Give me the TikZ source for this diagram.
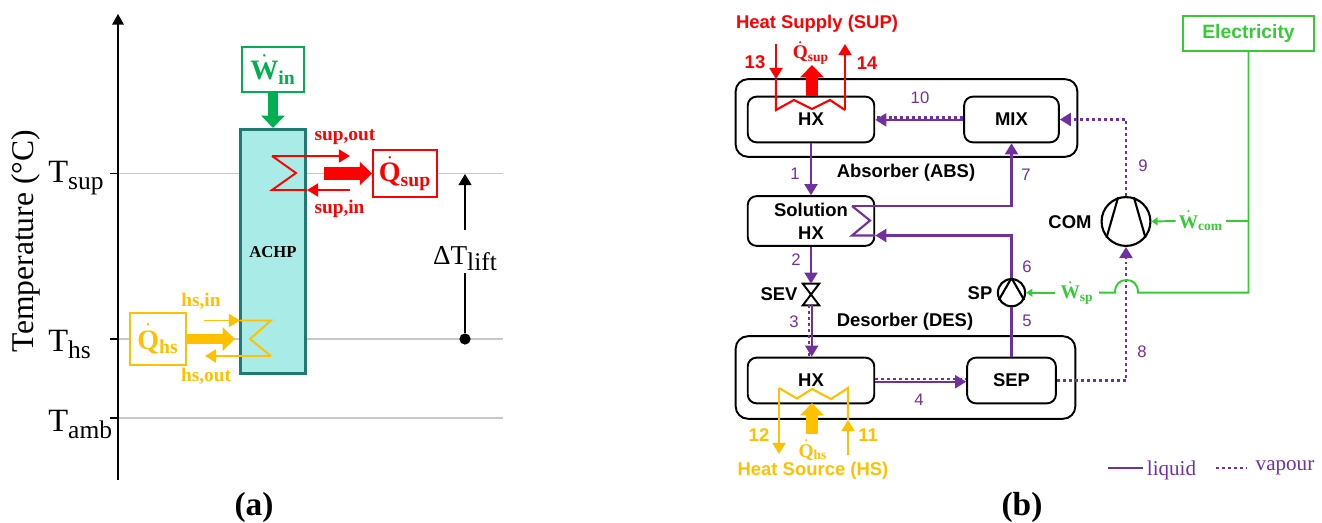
\documentclass[tikz,border=0pt]{standalone}
\usepackage{fontspec}
\setmainfont{Liberation Serif}
\setsansfont{Liberation Sans}
\usepackage{tikz}
\usetikzlibrary{arrows.meta}
\definecolor{supred}{HTML}{FF0000}
\definecolor{hsamber}{HTML}{FFC000}
\definecolor{ingreen}{HTML}{00B050}
\definecolor{elecgreen}{HTML}{33CC33}
\definecolor{cyclepurple}{HTML}{7030A0}
\definecolor{achpfill}{HTML}{A9EBE7}
\definecolor{achpdraw}{HTML}{1F7A72}
\definecolor{gridgrey}{HTML}{C8C8C8}
\newcommand{\axislabel}[2]{#1\raisebox{-0.45ex}{\fontsize{14.5}{14.5}\selectfont #2}}
\newcommand{\flowbig}[2]{{\fontsize{16}{18}\selectfont $\dot{\mathbf{#1}}_{\mathbf{#2}}$}}
\newcommand{\flowsmall}[2]{{\fontsize{11}{13}\selectfont $\dot{\mathbf{#1}}_{\mathbf{#2}}$}}
\tikzset{
  gridline/.style={gridgrey, line width=0.8pt},
  axisline/.style={black, line width=0.9pt},
  ticklabel/.style={anchor=base west, inner sep=0pt, font=\fontsize{18.5}{20}\selectfont},
  flowbox/.style={draw=#1, text=#1, fill=white, line width=1.2pt, inner sep=0pt},
  porttext/.style={inner sep=0pt, font=\bfseries\fontsize{11}{12}\selectfont},
  bigtip/.style={line width=#1, -{Triangle[length=7pt,width=13pt]}},
  thintip/.style={-{Triangle[length=6.3pt,width=7.4pt]}},
  smalltip/.style={-{Triangle[length=3.5pt,width=4.5pt]}},
  loopline/.style={line width=1.1pt},
  outerbox/.style={draw, line width=1.1pt, rounded corners=7pt, inner sep=0pt},
  unitbox/.style={draw, line width=1.1pt, rounded corners=5pt, inner sep=0pt, font=\sffamily\bfseries\fontsize{10.5}{13}\selectfont, align=center},
  sanstext/.style={inner sep=0pt, font=\sffamily\bfseries\fontsize{10.5}{12}\selectfont},
  statetext/.style={inner sep=0pt, cyclepurple, font=\sffamily\fontsize{9.5}{11}\selectfont},
  boldnum/.style={inner sep=0pt, font=\sffamily\bfseries\fontsize{10.5}{12}\selectfont},
  liquid/.style={cyclepurple, line width=1.2pt},
  vapour/.style={cyclepurple, line width=1.3pt, dash pattern=on 1.7pt off 1.7pt},
  power/.style={elecgreen, line width=1.1pt},
  machine/.style={circle, draw, line width=1.2pt, fill=white, inner sep=0pt},
}
\begin{document}
\begin{tikzpicture}[x=0.02cm, y=-0.02cm]
\useasboundingbox (0,0) rectangle (1322,523);
%%% Draws left diagram
% axis and temperature levels
\coordinate (axbot) at (118,480);
\coordinate (axtop) at (118,14);
\coordinate (tsupL) at (110,173.5);
\coordinate (tsupR) at (503,173.5);
\coordinate (thsL) at (110,339);
\coordinate (thsR) at (503,339);
\coordinate (tambL) at (110,418);
\coordinate (tambR) at (503,418);
\draw[gridline] (tsupL) to (tsupR);
\draw[gridline] (thsL) to (thsR);
\draw[gridline] (tambL) to (tambR);
\draw[axisline] (tsupL) to +(8,0);
\draw[axisline] (thsL) to +(8,0);
\draw[axisline] (tambL) to +(8,0);
\draw[axisline, -{Triangle[length=6pt,width=6.5pt]}] (axbot) to (axtop);
% axis labels
\node[rotate=90, inner sep=0pt, font=\fontsize{18}{20}\selectfont] (ylabel) at (26,241) {Temperature (°C)};
\node[ticklabel] (tsuplbl) at (48,183) {\axislabel{T}{sup}};
\node[ticklabel] (thslbl) at (48,352) {\axislabel{T}{hs}};
\node[ticklabel] (tamblbl) at (48,432) {\axislabel{T}{amb}};
% heat pump and flow boxes
\node[draw=achpdraw, fill=achpfill, line width=1.7pt, minimum width=37.4pt, minimum height=138.9pt, inner sep=0pt] (achp) at (273,251.5) {};
\node[font=\bfseries\fontsize{9.5}{11}\selectfont, inner sep=0pt] (achplbl) at (273,252) {ACHP};
\node[flowbox=ingreen, minimum width=35pt, minimum height=25.5pt] (win) at (273,69.5) {\flowbig{W}{in}};
\node[flowbox=supred, minimum width=36.3pt, minimum height=26.6pt] (qsup) at (405,173.5) {\flowbig{Q}{sup}};
\node[flowbox=hsamber, minimum width=31.7pt, minimum height=29.5pt] (qhs) at (158,339) {\flowbig{Q}{hs}};
% thick flows
\coordinate (supstart) at (324,173.5);
\coordinate (hstip) at (235,339);
\draw[bigtip=6pt, ingreen] (win) to (achp);
\draw[bigtip=7.2pt, supred] (supstart) to (qsup);
\draw[bigtip=6.2pt, hsamber] (qhs) to (hstip);
% hot side coil
\coordinate (supa) at (350,190);
\coordinate (supb) at (307,190);
\coordinate (supc) at (272,190);
\coordinate (supd) at (296,173);
\coordinate (supe) at (272,156);
\coordinate (supf) at (350,156);
\draw[supred, loopline] (supb) to (supc) to (supd) to (supe);
\draw[supred, loopline, thintip] (supe) to (supf);
\draw[supred, loopline, thintip] (supa) to (supb);
\node[porttext, supred] (supout) at (345,137) {sup,out};
\node[porttext, supred] (supin) at (339.5,209) {sup,in};
% cold side coil
\coordinate (hsa) at (204,320.5);
\coordinate (hsb) at (240,320.5);
\coordinate (hsc) at (271,320.5);
\coordinate (hsd) at (250,339);
\coordinate (hse) at (271,356);
\coordinate (hsf) at (205,356);
\draw[hsamber, loopline, thintip] (hsa) to (hsb);
\draw[hsamber, loopline] (hsb) to (hsc) to (hsd) to (hse);
\draw[hsamber, loopline, thintip] (hse) to (hsf);
\node[porttext, hsamber] (hsin) at (201,301) {hs,in};
\node[porttext, hsamber] (hsout) at (206,376) {hs,out};
% temperature lift
\coordinate (lifttop) at (465,174);
\coordinate (liftdot) at (465,339);
\node[ticklabel, anchor=base, font=\fontsize{15.5}{18}\selectfont] (liftlbl) at (465,265) {\axislabel{ΔT}{lift}};
\node[circle, fill=black, minimum size=6.4pt, inner sep=0pt] (dotlift) at (liftdot) {};
\draw[black, line width=0.8pt] (465,273) to (dotlift);
\draw[black, line width=0.8pt, thintip] (465,230) to (lifttop);
\node[inner sep=0pt, font=\bfseries\fontsize{19}{21}\selectfont] (capa) at (254,507) {(a)};
%%% Draws right diagram
% draws outer boxes
\node[outerbox, minimum width=194.5pt, minimum height=44.2pt] (abs) at (906.5,118) {};
\node[outerbox, minimum width=193.3pt, minimum height=47pt] (des) at (905.5,377.5) {};
% draws units
\node[unitbox, minimum width=72pt, minimum height=26pt] (hxtop) at (811,119.5) {HX};
\node[unitbox, minimum width=53.9pt, minimum height=26pt] (mix) at (1011.5,119.5) {MIX};
\node[unitbox, minimum width=72pt, minimum height=28.3pt] (solhx) at (811,221) {Solution\\HX};
\node[unitbox, minimum width=72pt, minimum height=26pt] (hxbot) at (811,380.5) {HX};
\node[unitbox, minimum width=50.5pt, minimum height=26pt] (sep) at (1011.5,380.5) {SEP};
\node[draw=elecgreen, line width=1.2pt, minimum width=74.3pt, minimum height=19.6pt, inner sep=0pt, text=elecgreen, font=\sffamily\bfseries\fontsize{11}{13}\selectfont] (elec) at (1248.5,33.5) {Electricity};
% draws compressor, pump and valve
\node[machine, minimum size=27.8pt] (com) at (1126,221.5) {};
\node[machine, minimum size=15.5pt] (sp) at (1011.5,292.7) {};
\node[inner sep=0pt, minimum width=9pt, minimum height=12pt] (sev) at (811,294.5) {};
\draw[line width=1.2pt] (com.108) to (com.220);
\draw[line width=1.2pt] (com.72) to (com.320);
\draw[line width=1.2pt] (sp.210) to (sp.90) to (sp.330);
\draw[line width=1.1pt] (sev.north west) to (sev.north east) to (sev.south west) to (sev.south east) to cycle;
% draws cycle lines
\coordinate (bend7a) at (852,206);
\coordinate (bend7b) at (mix.south |- bend7a);
\coordinate (coilb) at (870,220.5);
\coordinate (bend6a) at (sp.north |- 0,235.5);
\coordinate (coilc) at (852,235.5);
\coordinate (soleast) at (solhx.east |- bend6a);
\coordinate (bend9) at (com.north |- mix.east);
\coordinate (bend8) at (com.south |- sep.east);
\draw[liquid, thintip] (hxtop.south) to (solhx.north);
\draw[liquid, thintip] (bend7a) to (bend7b) to (mix.south);
\draw[liquid] (bend7a) to (coilb) to (coilc) to (soleast);
\draw[liquid, thintip] (sp.north) to (bend6a) to (soleast);
\draw[liquid, thintip] (solhx.south) to (sev.north);
\draw[liquid] (sep.north) to (sp.south);
\draw[vapour, thintip] (com.north) to (bend9) to (mix.east);
\draw[vapour, thintip] (sep.east) to (bend8) to (com.south);
% draws double lines
\draw[vapour] ([yshift=1.2pt]mix.west) to ([yshift=1.2pt]mix.west -| hxtop.east);
\draw[liquid, thintip] ([yshift=-0.2pt]mix.west) to ([yshift=-0.2pt]mix.west -| hxtop.east);
\draw[vapour] ([yshift=0.9pt]hxbot.east) to ([yshift=0.9pt]hxbot.east -| sep.west);
\draw[liquid, thintip] ([yshift=-0.7pt]hxbot.east) to ([yshift=-0.7pt]hxbot.east -| sep.west);
\draw[vapour] ([xshift=-1.3pt]sev.south) to ([xshift=-1.3pt]sev.south |- hxbot.north);
\draw[liquid, thintip] ([xshift=0.4pt]sev.south) to ([xshift=0.4pt]sev.south |- hxbot.north);
% draws hot stream
\coordinate (in13) at (776,44);
\coordinate (tip13) at (776,79);
\coordinate (hota) at (776,110);
\coordinate (hotb) at (794,100);
\coordinate (hotc) at (812,109);
\coordinate (hotd) at (830,100);
\coordinate (hote) at (845,110);
\coordinate (out14) at (845,44);
\draw[supred, line width=1.2pt, thintip] (in13) to (tip13);
\draw[supred, line width=1.2pt] (tip13) to (hota) to (hotb) to (hotc) to (hotd) to (hote);
\draw[supred, line width=1.2pt, thintip] (hote) to (out14);
% draws cold stream
\coordinate (out12) at (779,454);
\coordinate (colda) at (779,388);
\coordinate (coldb) at (797,398.5);
\coordinate (coldc) at (812,389);
\coordinate (coldd) at (831,399);
\coordinate (colde) at (848,388);
\coordinate (tip11) at (848,420);
\coordinate (in11) at (848,455);
\draw[hsamber, line width=1.2pt, thintip] (in11) to (tip11);
\draw[hsamber, line width=1.2pt] (tip11) to (colde) to (coldd) to (coldc) to (coldb) to (colda);
\draw[hsamber, line width=1.2pt, thintip] (colda) to (out12);
% draws heat flows
\coordinate (supfrom) at (812,96);
\coordinate (supto) at (812,65);
\coordinate (hsfrom) at (812,434);
\coordinate (hsto) at (812,403);
\draw[bigtip=6.8pt, supred] (supfrom) to (supto);
\draw[bigtip=7.2pt, hsamber] (hsfrom) to (hsto);
% draws electricity lines
\node[inner sep=0pt, minimum width=28.4pt, text=elecgreen] (wcom) at (1201,221) {\flowsmall{W}{com}};
\node[inner sep=0pt, minimum width=24.9pt, text=elecgreen] (wsp) at (1077,292.7) {\flowsmall{W}{sp}};
\coordinate (jcom) at (elec.south |- wcom);
\coordinate (jsp) at (elec.south |- wsp);
\coordinate (bridgeR) at (1138,292.7);
\coordinate (bridgeL) at (1115,292.7);
\draw[power] (elec.south) to (jsp) to (bridgeR) .. controls (1138,284) and (1133,280) .. (1126.5,280) .. controls (1120,280) and (1115,284) .. (bridgeL) to (wsp.east);
\draw[power] (jcom) to (wcom.east);
\draw[power, smalltip] (wcom.west) to (com.east);
\draw[power, smalltip] (wsp.west) to (sp.east);
% label streams and units
\node[sanstext, supred] (suplbl) at (817,24) {Heat Supply (SUP)};
\node[sanstext, hsamber] (hslbl) at (813,471) {Heat Source (HS)};
\node[sanstext] (abslbl) at (906,173) {Absorber (ABS)};
\node[sanstext] (deslbl) at (905,322) {Desorber (DES)};
\node[sanstext] (comlbl) at (1070,222) {COM};
\node[sanstext] (splbl) at (980,293) {SP};
\node[sanstext] (sevlbl) at (779,294) {SEV};
\node[inner sep=0pt, text=supred] (qsuplbl) at (811,53) {\flowsmall{Q}{sup}};
\node[inner sep=0pt, text=hsamber] (qhslbl) at (813,450) {\flowsmall{Q}{hs}};
\node[boldnum, supred] (n13) at (755,62) {13};
\node[boldnum, supred] (n14) at (867,63) {14};
\node[boldnum, hsamber] (n12) at (759,435) {12};
\node[boldnum, hsamber] (n11) at (868,435) {11};
% label states
\node[statetext] (s1) at (795,174) {1};
\node[statetext] (s2) at (796,260) {2};
\node[statetext] (s3) at (794,322) {3};
\node[statetext] (s4) at (919,400) {4};
\node[statetext] (s5) at (1027,321) {5};
\node[statetext] (s6) at (1027,267) {6};
\node[statetext] (s7) at (1026,175) {7};
\node[statetext] (s8) at (1142,352) {8};
\node[statetext] (s9) at (1143,166) {9};
\node[statetext] (s10) at (920,98) {10};
% legend
\coordinate (lega) at (1108,468);
\coordinate (legb) at (1143,468);
\coordinate (legc) at (1216,468);
\coordinate (legd) at (1247,468);
\draw[liquid, line width=1.5pt] (lega) to (legb);
\draw[vapour] (legc) to (legd);
\node[inner sep=0pt, text=cyclepurple, font=\fontsize{12}{14}\selectfont] (liqlbl) at (1171.5,470) {liquid};
\node[inner sep=0pt, text=cyclepurple, font=\fontsize{12}{14}\selectfont] (vaplbl) at (1285,468) {vapour};
\node[inner sep=0pt, font=\bfseries\fontsize{19}{21}\selectfont] (capb) at (1022,507) {(b)};
\end{tikzpicture}
\end{document}
